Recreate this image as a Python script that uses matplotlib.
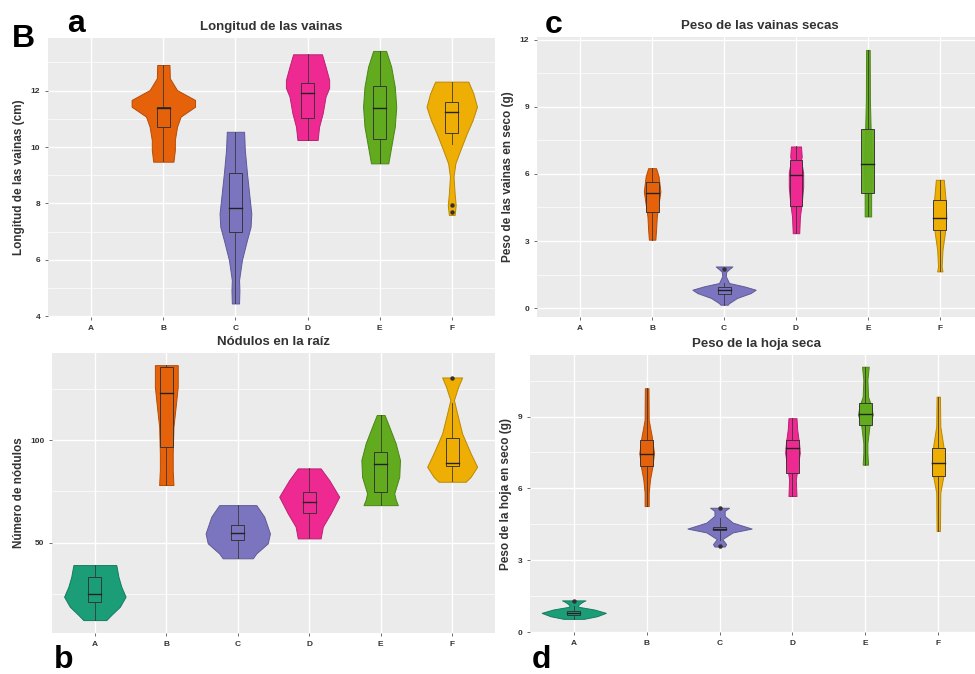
import matplotlib.pyplot as plt
import matplotlib.colors as mcolors
from matplotlib.patches import Rectangle

plt.rcParams['font.family'] = ['Liberation Sans', 'DejaVu Sans']

groups = ['A', 'B', 'C', 'D', 'E', 'F']
colors = {'A': '#1B9E77', 'B': '#E6620A', 'C': '#7B74BE', 'D': '#EE2A92',
          'E': '#62AA1E', 'F': '#EEAE04'}

# ---- a: Longitud de las vainas (cm) ----
len_y = {
    'B': [9.48, 9.9, 10.25, 10.72, 11.08, 11.43, 11.67, 12.02, 12.44, 12.91],
    'C': [4.45, 4.92, 5.28, 5.99, 6.7, 7.17, 7.64, 8.35, 9.07, 9.9, 10.54],
    'D': [10.25, 10.72, 11.2, 11.79, 12.1, 12.38, 12.85, 13.29],
    'E': [9.42, 10.0, 10.72, 11.43, 12.14, 12.85, 13.41],
    'F': [7.59, 7.94, 8.35, 8.95, 9.42, 9.9, 10.49, 10.96, 11.43, 11.9, 12.32],
}
len_w = {
    'B': [0.14, 0.16, 0.16, 0.19, 0.24, 0.44, 0.44, 0.19, 0.09, 0.085],
    'C': [0.05, 0.055, 0.05, 0.09, 0.16, 0.21, 0.22, 0.19, 0.16, 0.13, 0.12],
    'D': [0.14, 0.16, 0.21, 0.25, 0.30, 0.30, 0.25, 0.20],
    'E': [0.12, 0.16, 0.21, 0.23, 0.21, 0.16, 0.09],
    'F': [0.04, 0.055, 0.04, 0.025, 0.05, 0.12, 0.21, 0.29, 0.35, 0.30, 0.23],
}
# low whisker, q1, median, q3, high whisker
len_box = {
    'B': (9.5, 10.72, 11.37, 11.43, 12.9),
    'C': (4.45, 7.0, 7.82, 9.07, 10.54),
    'D': (10.25, 11.02, 11.93, 12.26, 13.29),
    'E': (9.42, 10.27, 11.37, 12.17, 13.41),
    'F': (10.1, 10.49, 11.25, 11.61, 12.32),
}
len_out = {'F': [7.95, 7.7]}

# ---- b: Número de nódulos ----
nod_y = {
    'A': [12.3, 14.8, 18.8, 23.7, 28.6, 33.4, 39.1],
    'B': [78.1, 85.4, 93.5, 106.5, 116.0, 126.0, 136.5],
    'C': [42.4, 44.8, 49.7, 54.5, 62.7, 68.3],
    'D': [52.1, 57.8, 64.3, 72.4, 80.5, 86.2],
    'E': [68.3, 71.0, 74.0, 82.1, 90.3, 98.4, 106.5, 112.2],
    'F': [79.7, 82.1, 87.0, 93.5, 103.2, 113.0, 119.5, 126.0, 130.5],
}
nod_w = {
    'A': [0.16, 0.23, 0.35, 0.43, 0.37, 0.33, 0.30],
    'B': [0.10, 0.09, 0.09, 0.10, 0.13, 0.16, 0.16],
    'C': [0.21, 0.26, 0.42, 0.45, 0.37, 0.26],
    'D': [0.16, 0.19, 0.30, 0.42, 0.28, 0.16],
    'E': [0.24, 0.21, 0.19, 0.26, 0.27, 0.21, 0.12, 0.055],
    'F': [0.19, 0.26, 0.35, 0.26, 0.14, 0.07, 0.025, 0.085, 0.14],
}
nod_box = {
    'A': (12.3, 21.3, 25.0, 33.4, 39.1),
    'B': (78.1, 96.8, 122.7, 135.5, 136.5),
    'C': (42.4, 51.3, 54.5, 58.6, 68.3),
    'D': (52.1, 64.6, 70.0, 74.8, 86.2),
    'E': (68.3, 74.8, 88.3, 94.3, 112.2),
    'F': (80.0, 87.5, 88.6, 100.8, 118.0),
}
nod_out = {'F': [130.0]}

# ---- c: Peso de las vainas en seco (g) ----
pvs_y = {
    'B': [3.06, 3.5, 4.1, 4.55, 5.22, 5.89, 6.26],
    'C': [0.15, 0.22, 0.45, 0.67, 0.82, 0.97, 1.12, 1.42, 1.62, 1.74, 1.86],
    'D': [3.35, 4.1, 4.69, 5.44, 6.04, 6.63, 6.78, 7.23],
    'E': [4.1, 4.84, 5.44, 6.33, 7.08, 8.12, 9.31, 11.55],
    'F': [1.64, 1.86, 2.61, 3.35, 4.1, 4.84, 5.74],
}
pvs_w = {
    'B': [0.045, 0.055, 0.065, 0.085, 0.115, 0.09, 0.055],
    'C': [0.05, 0.07, 0.18, 0.37, 0.44, 0.28, 0.07, 0.025, 0.03, 0.07, 0.115],
    'D': [0.045, 0.055, 0.08, 0.10, 0.10, 0.07, 0.08, 0.07],
    'E': [0.045, 0.045, 0.045, 0.055, 0.046, 0.037, 0.028, 0.025],
    'F': [0.037, 0.025, 0.037, 0.07, 0.09, 0.08, 0.055],
}
pvs_box = {
    'B': (3.06, 4.32, 5.17, 5.66, 6.26),
    'C': (0.15, 0.64, 0.79, 0.94, 1.12),
    'D': (3.35, 4.55, 5.96, 6.63, 7.23),
    'E': (4.1, 5.17, 6.44, 8.0, 11.55),
    'F': (1.64, 3.5, 4.02, 4.84, 5.74),
}
pvs_out = {'C': [1.76]}

# ---- d: Peso de la hoja en seco (g) ----
phs_y = {
    'A': [0.55, 0.66, 0.8, 0.94, 1.05, 1.11, 1.2, 1.28, 1.32],
    'B': [5.26, 5.82, 6.37, 6.93, 7.48, 8.17, 8.86, 10.18],
    'C': [3.57, 3.67, 3.88, 4.16, 4.32, 4.57, 4.85, 5.06, 5.19],
    'D': [5.68, 6.37, 6.93, 7.48, 7.89, 8.45, 8.93],
    'E': [6.99, 7.48, 7.89, 8.59, 9.07, 9.42, 9.83, 10.53, 11.08],
    'F': [4.22, 5.82, 6.51, 7.06, 7.76, 8.59, 9.83],
}
phs_w = {
    'A': [0.14, 0.32, 0.44, 0.28, 0.07, 0.055, 0.09, 0.13, 0.16],
    'B': [0.028, 0.028, 0.046, 0.08, 0.10, 0.07, 0.028, 0.025],
    'C': [0.07, 0.09, 0.037, 0.18, 0.44, 0.18, 0.07, 0.07, 0.13],
    'D': [0.055, 0.046, 0.073, 0.10, 0.09, 0.065, 0.055],
    'E': [0.037, 0.028, 0.028, 0.055, 0.10, 0.083, 0.037, 0.028, 0.046],
    'F': [0.023, 0.028, 0.07, 0.09, 0.07, 0.028, 0.023],
}
phs_box = {
    'A': (0.55, 0.72, 0.8, 0.87, 1.1),
    'B': (5.26, 6.93, 7.45, 8.03, 10.18),
    'C': (3.85, 4.25, 4.32, 4.4, 4.75),
    'D': (5.68, 6.65, 7.69, 8.03, 8.93),
    'E': (6.99, 8.66, 9.11, 9.56, 11.08),
    'F': (4.22, 6.51, 7.06, 7.69, 9.83),
}
phs_out = {'A': [1.3], 'C': [5.2, 3.6]}


def darker(c, f=0.78):
    r, g, b = mcolors.to_rgb(c)
    return (r * f, g * f, b * f)


def style_axes(ax, ylim, yticks, yminor):
    ax.set_facecolor('#EBEBEB')
    for s in ax.spines.values():
        s.set_visible(False)
    ax.set_xlim(0.4, 6.6)
    ax.set_ylim(*ylim)
    ax.set_xticks(range(1, 7))
    ax.set_xticklabels(groups)
    ax.set_yticks(yticks)
    ax.set_yticks(yminor, minor=True)
    ax.grid(which='major', color='white', lw=1.0)
    ax.grid(which='minor', axis='y', color='white', lw=0.5)
    ax.set_axisbelow(True)
    ax.tick_params(axis='both', which='major', length=2.5, width=0.6, color='#555555',
                   labelsize=6, labelcolor='#333333', pad=3)
    ax.tick_params(which='minor', length=0)
    for lab in ax.get_xticklabels() + ax.get_yticklabels():
        lab.set_fontweight('bold')


def draw_panel(ax, ys, ws, boxes, outs):
    for i, g in enumerate(groups):
        if g not in ys:
            continue
        x = i + 1
        col = colors[g]
        y = ys[g]
        w = ws[g]
        ax.fill_betweenx(y, [x - v for v in w], [x + v for v in w],
                         facecolor=col, edgecolor=darker(col), lw=0.7, zorder=2)
        lo, q1, med, q3, hi = boxes[g]
        ax.plot([x, x], [lo, q1], color='#333333', lw=0.7, alpha=0.8, zorder=3)
        ax.plot([x, x], [q3, hi], color='#333333', lw=0.7, alpha=0.8, zorder=3)
        ax.add_patch(Rectangle((x - 0.09, q1), 0.18, q3 - q1, facecolor=col,
                               edgecolor='#333333', lw=0.7, alpha=0.95, zorder=3))
        ax.plot([x - 0.09, x + 0.09], [med, med], color='#222222', lw=1.0, zorder=4)
        for o in outs.get(g, []):
            ax.plot([x], [o], 'o', ms=2.2, color='#333333', zorder=4)


fig = plt.figure(figsize=(9.75, 6.74), dpi=100)

ax_a = fig.add_axes([0.0492, 0.5297, 0.4585, 0.414])
ax_c = fig.add_axes([0.5508, 0.5297, 0.4574, 0.4154])
ax_b = fig.add_axes([0.0533, 0.0608, 0.4544, 0.4154])
ax_d = fig.add_axes([0.5436, 0.0623, 0.4636, 0.411])

style_axes(ax_a, (3.97, 13.87), [4, 6, 8, 10, 12], [5, 7, 9, 11, 13])
style_axes(ax_c, (-0.4, 12.13), [0, 3, 6, 9, 12], [1.5, 4.5, 7.5, 10.5])
style_axes(ax_b, (6.0, 142.4), [50, 100], [25, 75, 125])
style_axes(ax_d, (0.05, 11.57), [0, 3, 6, 9], [1.5, 4.5, 7.5, 10.5])

draw_panel(ax_a, len_y, len_w, len_box, len_out)
draw_panel(ax_b, nod_y, nod_w, nod_box, nod_out)
draw_panel(ax_c, pvs_y, pvs_w, pvs_box, pvs_out)
draw_panel(ax_d, phs_y, phs_w, phs_box, phs_out)

tkw = dict(fontsize=9.5, fontweight='bold', color='#333333', pad=6)
ax_a.set_title('Longitud de las vainas', **tkw)
ax_c.set_title('Peso de las vainas secas', **tkw)
ax_b.set_title('Nódulos en la raíz', **tkw)
ax_d.set_title('Peso de la hoja seca', **tkw)

lkw = dict(fontsize=8.5, fontweight='bold', color='#333333', labelpad=4)
ax_a.set_ylabel('Longitud de las vainas (cm)', **lkw)
ax_c.set_ylabel('Peso de las vainas en seco (g)', **lkw)
ax_b.set_ylabel('Número de nódulos', **lkw)
ax_d.set_ylabel('Peso de la hoja en seco (g)', **lkw)

pkw = dict(fontsize=23, fontweight='bold', color='black', va='baseline')
fig.text(12 / 975, 1 - 47 / 674, 'B', **pkw)
fig.text(67 / 975, 1 - 32 / 674, 'a', **pkw)
fig.text(545 / 975, 1 - 33 / 674, 'c', **pkw)
fig.text(54 / 975, 1 - 668 / 674, 'b', **pkw)
fig.text(532 / 975, 1 - 668 / 674, 'd', **pkw)

fig.savefig('out.png', dpi=100)
